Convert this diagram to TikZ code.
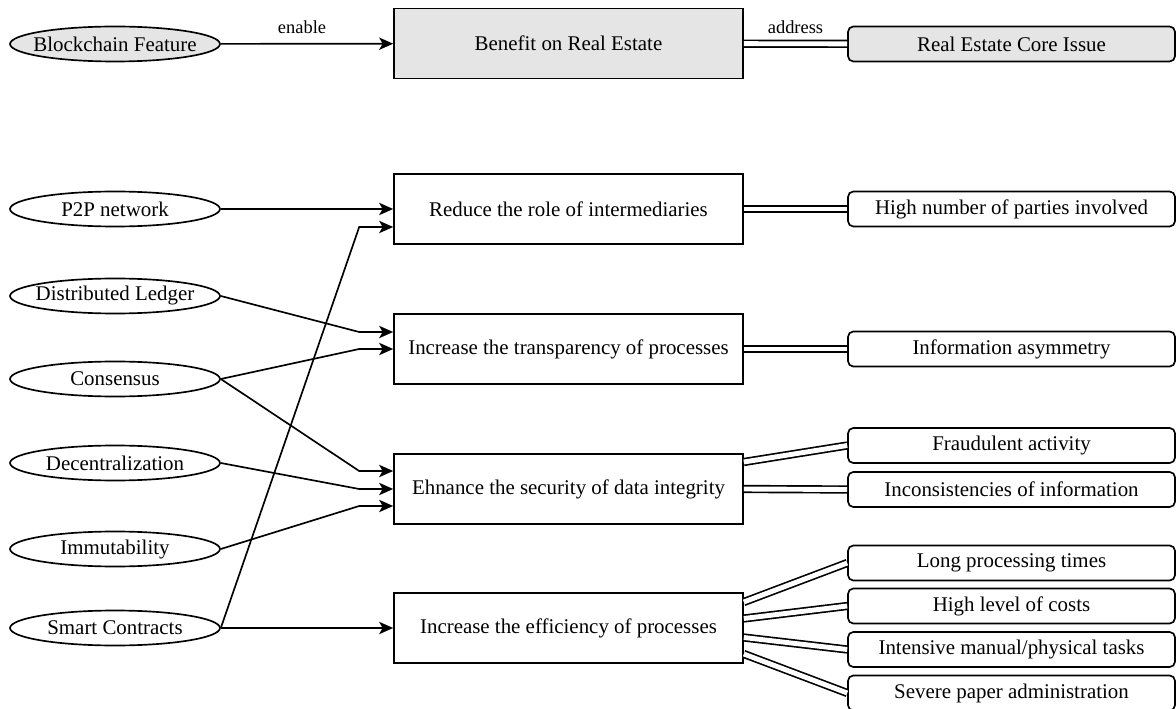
\documentclass[tikz,border=0pt]{standalone}
\usepackage{fontspec}
\setmainfont{Liberation Serif}
\usetikzlibrary{arrows.meta,shapes.geometric}

\begin{document}
\begin{tikzpicture}[x=0.02cm,y=-0.02cm,>={Stealth[length=8pt,width=7pt,inset=2pt]},
  line width=0.95pt,font=\fontsize{11.9}{14}\selectfont,
  feat node/.style={ellipse,draw,inner sep=-1cm,minimum width=4.2cm,minimum height=0.7cm},
  gain node/.style={rectangle,draw,inner sep=0pt,minimum width=6.98cm,minimum height=1.4cm},
  issue node/.style={rectangle,rounded corners=3pt,draw,inner sep=0pt,minimum width=6.54cm,minimum height=0.7cm},
  key/.style={fill=black!10},
  link/.style={->},
  tie/.style={double,double distance=2.8pt}]

  \useasboundingbox (0,0) rectangle (1176,709);

  % legend
  \node[feat node,key] (k1) at (115,44) {Blockchain Feature};
  \node[gain node,key] (k2) at (568.5,43.5) {Benefit on Real Estate};
  \node[issue node,key] (k3) at (1011.5,44) {Real Estate Core Issue};

  \path[every node/.style={font=\fontsize{10.5}{12}\selectfont}]
    (k1) edge[link] node[above=2pt,xshift=-0.1cm] {enable} (k2)
    (k2) edge[tie] node[above=2pt] {address} (k3);

  % blockchain features
  \node[feat node] (f1) at (115,209) {P2P network};
  \node[feat node] (f2) at (115,296) {Distributed Ledger};
  \node[feat node] (f3) at (115,379) {Consensus};
  \node[feat node] (f4) at (115,463) {Decentralization};
  \node[feat node] (f5) at (115,549) {Immutability};
  \node[feat node] (f6) at (115,628) {Smart Contracts};

  % benefits
  \node[gain node] (b1) at (568.5,209) {Reduce the role of intermediaries};
  \node[gain node] (b2) at (568.5,349) {Increase the transparency of processes};
  \node[gain node] (b3) at (568.5,489) {Ehnance the security of data integrity};
  \node[gain node] (b4) at (568.5,628) {Increase the efficiency of processes};

  % core issues
  \node[issue node] (i1) at (1011.5,209) {High number of parties involved};
  \node[issue node] (i2) at (1011.5,349) {Information asymmetry};
  \node[issue node] (i3) at (1011.5,445.5) {Fraudulent activity};
  \node[issue node] (i4) at (1011.5,489.5) {Inconsistencies of information};
  \node[issue node] (i5) at (1011.5,563) {Long processing times};
  \node[issue node] (i6) at (1011.5,606) {High level of costs};
  \node[issue node] (i7) at (1011.5,649.5) {Intensive manual/physical tasks};
  \node[issue node] (i8) at (1011.5,693) {Severe paper administration};

  \path
    (f1) edge[link] (b1)
    (f6) edge[link] (b4);
  \draw[link] (f6.east) -- ([xshift=-0.68cm,yshift=-0.36cm]b1.west) -- ([yshift=-0.36cm]b1.west);
  \draw[link] (f2.east) -- ([xshift=-0.68cm,yshift=0.34cm]b2.west) -- ([yshift=0.34cm]b2.west);
  \draw[link] (f3.east) -- ([xshift=-0.68cm]b2.west) -- (b2.west);
  \draw[link] (f3.east) -- ([xshift=-0.68cm,yshift=0.36cm]b3.west) -- ([yshift=0.36cm]b3.west);
  \draw[link] (f4.east) -- ([xshift=-0.68cm]b3.west) -- (b3.west);
  \draw[link] (f5.east) -- ([xshift=-0.68cm,yshift=-0.34cm]b3.west) -- ([yshift=-0.34cm]b3.west);

  \path
    (b1) edge[tie] (i1)
    (b2) edge[tie] (i2)
    ([yshift=0.54cm]b3.east) edge[tie] (i3.west)
    (b3.east) edge[tie] (i4.west)
    ([yshift=0.52cm]b4.east) edge[tie] (i5.west)
    ([yshift=0.19cm]b4.east) edge[tie] (i6.west)
    ([yshift=-0.19cm]b4.east) edge[tie] (i7.west)
    ([yshift=-0.52cm]b4.east) edge[tie] (i8.west);
\end{tikzpicture}
\end{document}
